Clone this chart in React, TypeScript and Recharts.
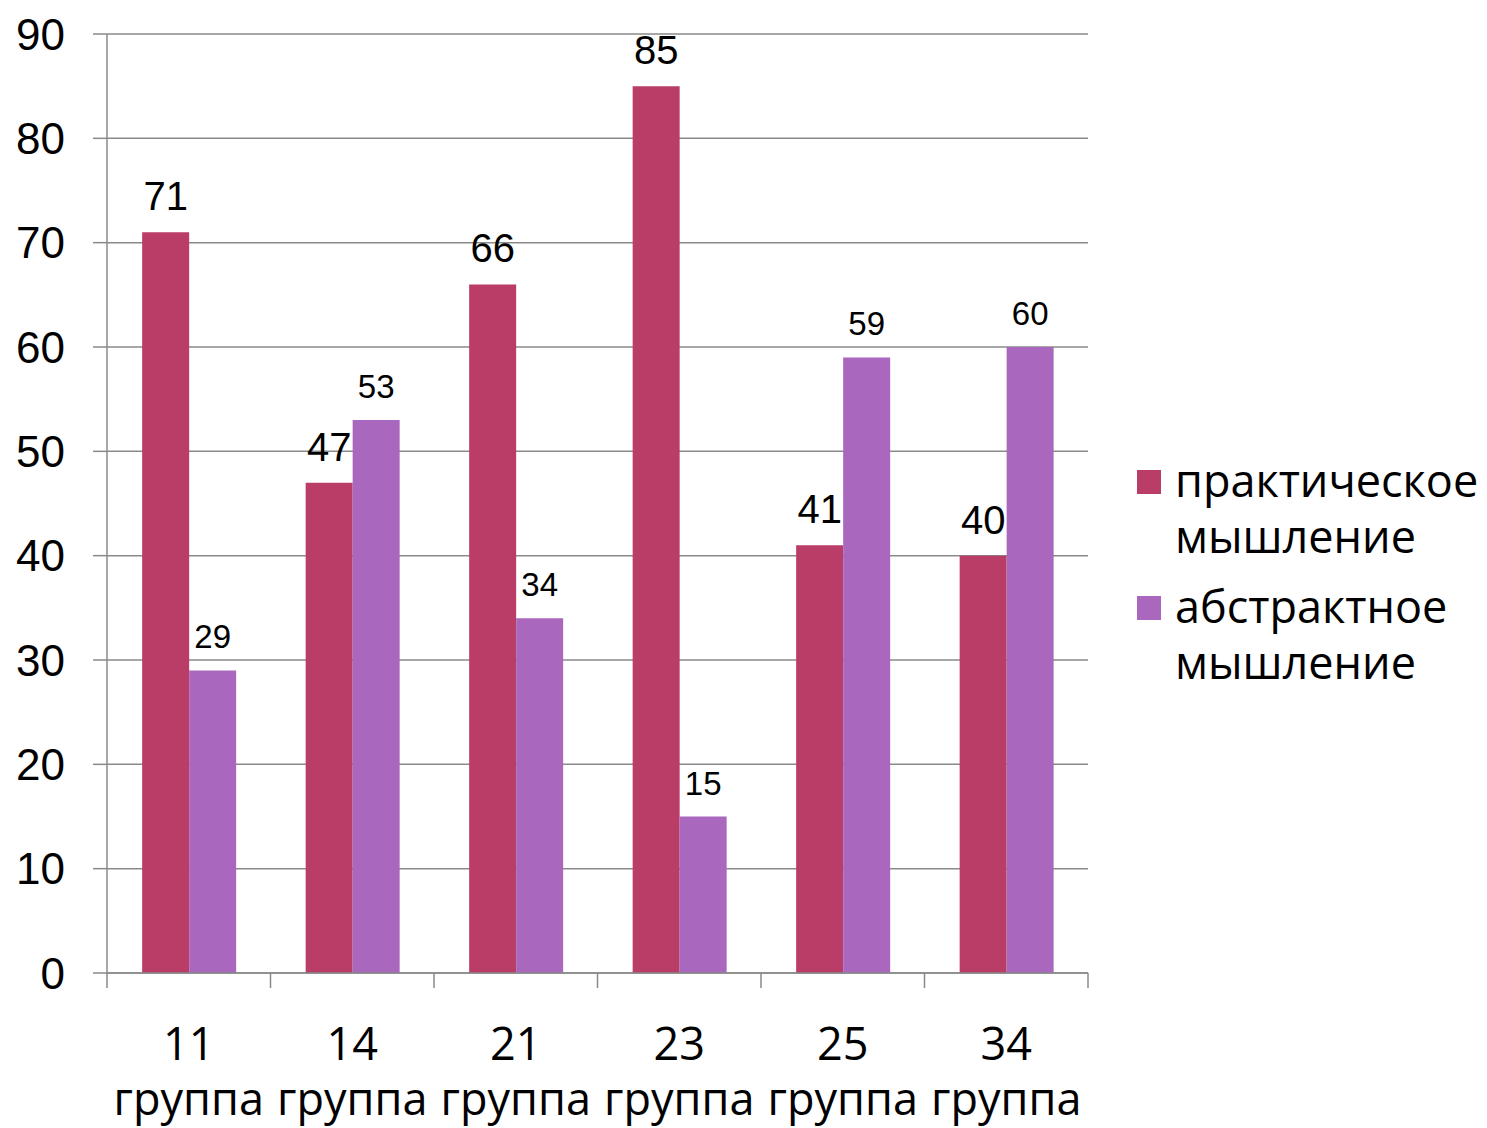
import React from "react";
import { BarChart, Bar, XAxis, YAxis, CartesianGrid, Legend, LabelList } from "recharts";

const groupNumbers = ["11", "14", "21", "23", "25", "34"];
const groupWord = "группа";
const practical = [71, 47, 66, 85, 41, 40];
const abstractVals = [29, 53, 34, 15, 59, 60];
const seriesNames = ["практическое мышление", "абстрактное мышление"];
const yTicks = [0, 10, 20, 30, 40, 50, 60, 70, 80, 90];

const data = groupNumbers.map((g, i) => ({
  cat: g,
  practical: practical[i],
  abstract: abstractVals[i],
}));

const COLORS = ["#B93D66", "#A967BD"];
const GRID = "#8A8A8A";
const CHART_W = 1479;
const CHART_H = 1120;
const MARGIN = { top: 26, right: 399, bottom: 0, left: 0 };
const Y_W = 99;
const PLOT_W = CHART_W - MARGIN.right - Y_W;
const BAND = PLOT_W / groupNumbers.length;

const XTick = (props: any) => {
  const { x, y, payload, index } = props;
  const half = BAND / 2;
  return (
    <g>
      <line x1={x - half} x2={x - half} y1={y} y2={y + 15} stroke={GRID} strokeWidth={1.5} />
      {index === groupNumbers.length - 1 && (
        <line x1={x + half} x2={x + half} y1={y} y2={y + 15} stroke={GRID} strokeWidth={1.5} />
      )}
      <text x={x} y={y + 87} textAnchor="middle" fontFamily="'Open Sans', sans-serif" fontSize={45} fill="#000">
        {payload.value}
      </text>
      <text x={x} y={y + 142} textAnchor="middle" fontFamily="'Open Sans', sans-serif" fontSize={45} fill="#000">
        {groupWord}
      </text>
    </g>
  );
};

const LegendContent = (props: any) => {
  const payload = [...(props.payload || [])].sort(
    (a: any, b: any) => seriesNames.indexOf(a.value) - seriesNames.indexOf(b.value)
  );
  return (
    <div style={{ fontFamily: "'Open Sans', sans-serif", fontSize: 45, color: "#000" }}>
      {payload.map((p: any, i: number) => (
        <div key={i} style={{ display: "flex", alignItems: "flex-start", marginBottom: 14 }}>
          <div style={{ width: 24, height: 24, background: p.color, marginTop: 18, marginRight: 14, flexShrink: 0 }} />
          <div style={{ lineHeight: "56px", whiteSpace: "nowrap" }}>
            {String(p.value).split(" ").map((w: string, j: number) => (
              <div key={j}>{w}</div>
            ))}
          </div>
        </div>
      ))}
    </div>
  );
};

export default function App() {
  return (
    <div style={{ width: CHART_W, height: CHART_H }}>
      <BarChart
        width={CHART_W}
        height={CHART_H}
        data={data}
        margin={MARGIN}
        barCategoryGap="21.5%"
        barGap={0}
      >
        <CartesianGrid vertical={false} stroke={GRID} strokeWidth={1.5} />
        <XAxis
          dataKey="cat"
          height={155}
          interval={0}
          tickSize={0}
          tickMargin={0}
          tickLine={false}
          axisLine={{ stroke: GRID, strokeWidth: 1.5 }}
          tick={<XTick />}
        />
        <YAxis
          width={Y_W}
          domain={[0, 90]}
          ticks={yTicks}
          interval={0}
          tickSize={14}
          tickMargin={28}
          axisLine={{ stroke: GRID, strokeWidth: 1.5 }}
          tickLine={{ stroke: GRID, strokeWidth: 1.5 }}
          tick={{ fill: "#000", fontSize: 44, fontFamily: "'Liberation Sans', Arial, sans-serif" }}
        />
        <Legend
          layout="horizontal"
          verticalAlign="middle"
          align="center"
          wrapperStyle={{ left: 1129, top: 444, width: 350 }}
          content={<LegendContent />}
        />
        <Bar dataKey="practical" name={seriesNames[0]} fill={COLORS[0]} isAnimationActive={false}>
          <LabelList
            dataKey="practical"
            position="top"
            offset={22}
            style={{ fontSize: 40, fill: "#000", fontFamily: "'Liberation Sans', Arial, sans-serif" }}
          />
        </Bar>
        <Bar dataKey="abstract" name={seriesNames[1]} fill={COLORS[1]} isAnimationActive={false}>
          <LabelList
            dataKey="abstract"
            position="top"
            offset={22}
            style={{ fontSize: 33, fill: "#000", fontFamily: "'Liberation Sans', Arial, sans-serif" }}
          />
        </Bar>
      </BarChart>
    </div>
  );
}
